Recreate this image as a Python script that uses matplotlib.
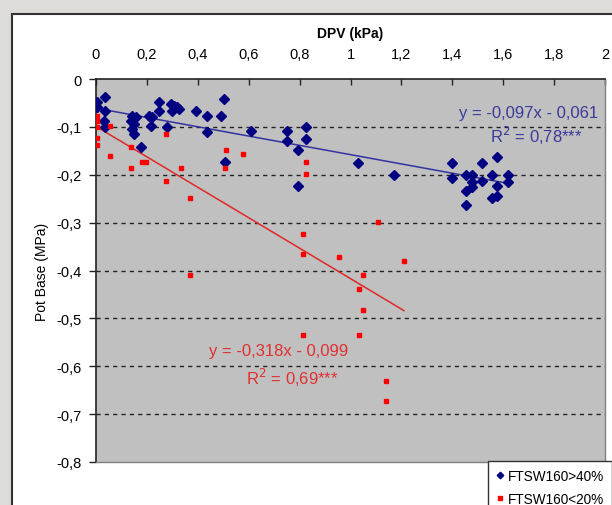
import matplotlib
matplotlib.use("Agg")
import matplotlib.pyplot as plt
from matplotlib.patches import Rectangle
import numpy as np

plt.rcParams['font.family'] = ['Liberation Sans', 'DejaVu Sans']

# ---- data ----
blue_x = [0.004, 0.004, 0.035, 0.035, 0.03, 0.035,
          0.142, 0.138, 0.157, 0.15, 0.142, 0.15, 0.176,
          0.209, 0.22, 0.217, 0.248, 0.248, 0.28,
          0.295, 0.307, 0.319, 0.327, 0.30, 0.394,
          0.437, 0.437, 0.492, 0.504, 0.507, 0.61,
          0.752, 0.752, 0.795, 0.795, 0.827, 0.827,
          1.028, 1.169,
          1.398, 1.398, 1.452, 1.452, 1.452, 1.476, 1.476, 1.476,
          1.516, 1.516, 1.555, 1.555, 1.575, 1.575, 1.575, 1.618, 1.618]
blue_y = [-0.048, -0.058, -0.038, -0.067, -0.088, -0.10,
          -0.077, -0.088, -0.079, -0.094, -0.104, -0.115, -0.143,
          -0.077, -0.079, -0.098, -0.048, -0.067, -0.10,
          -0.052, -0.056, -0.058, -0.063, -0.067, -0.067,
          -0.077, -0.111, -0.077, -0.042, -0.174, -0.109,
          -0.109, -0.13, -0.148, -0.224, -0.10, -0.125,
          -0.175, -0.20,
          -0.175, -0.207, -0.20, -0.234, -0.263, -0.20, -0.215, -0.226,
          -0.175, -0.213, -0.20, -0.249, -0.163, -0.224, -0.244, -0.20, -0.215]

red_x = [0.004, 0.004, 0.004, 0.004, 0.004, 0.055, 0.055,
         0.137, 0.137, 0.182, 0.196, 0.274, 0.274, 0.333,
         0.37, 0.37, 0.51, 0.508, 0.576,
         0.812, 0.815, 0.826, 0.826, 0.815, 0.953,
         1.033, 1.033, 1.048, 1.048, 1.11, 1.14, 1.14, 1.21]
red_y = [-0.077, -0.088, -0.10, -0.123, -0.138, -0.098, -0.161,
         -0.141, -0.186, -0.174, -0.174, -0.115, -0.214, -0.186,
         -0.249, -0.409, -0.148, -0.186, -0.157,
         -0.324, -0.366, -0.174, -0.199, -0.535, -0.372,
         -0.439, -0.535, -0.409, -0.482, -0.299, -0.63, -0.673, -0.381]

blue_slope, blue_intercept = -0.097, -0.061
red_slope, red_intercept = -0.318, -0.099

x_ticks = [0, 0.2, 0.4, 0.6, 0.8, 1.0, 1.2, 1.4, 1.6, 1.8, 2.0]
x_tick_labels = ['0', '0,2', '0,4', '0,6', '0,8', '1', '1,2', '1,4', '1,6', '1,8', '2']
y_ticks = [0, -0.1, -0.2, -0.3, -0.4, -0.5, -0.6, -0.7, -0.8]
y_tick_labels = ['0', '-0,1', '-0,2', '-0,3', '-0,4', '-0,5', '-0,6', '-0,7', '-0,8']

series_labels = ['FTSW160>40%', 'FTSW160<20%']
blue_eq = 'y = -0,097x - 0,061'
blue_r2 = 'R$^2$ = 0,78***'
red_eq = 'y = -0,318x - 0,099'
red_r2 = 'R$^2$ = 0,69***'

# ---- figure ----
W, H = 612, 506
fig = plt.figure(figsize=(W / 100, H / 100), dpi=100)
fig.patch.set_facecolor('#dedcd8')

# white chart frame
frame = Rectangle((12 / W, -0.1), 1.2, 1 - 15 / H + 0.1, transform=fig.transFigure,
                  facecolor='white', edgecolor='#333333', linewidth=1.5, zorder=-10)
fig.patches.append(frame)

ax = fig.add_axes([96 / W, 1 - 463 / H, (605 - 96) / W, (463 - 80) / H])
ax.set_zorder(5)
ax.set_facecolor('#c0c0c0')
ax.set_xlim(0, 2)
ax.set_ylim(-0.8, 0)

for yv in y_ticks[1:-1]:
    ax.axhline(yv, color='#222222', linestyle=(0, (3, 3)), linewidth=1.0, zorder=1)

blue_col = '#000080'
red_col = '#ff0000'

ax.plot(blue_x, blue_y, linestyle='none', marker='D', markersize=4.7,
        color=blue_col, label=series_labels[0], zorder=3)
ax.plot(red_x, red_y, linestyle='none', marker='s', markersize=3.5,
        color=red_col, label=series_labels[1], zorder=3)

bx = np.array([min(blue_x), max(blue_x)])
ax.plot(bx, blue_slope * bx + blue_intercept, color='#3333a0', linewidth=1.1, zorder=2)
rx = np.array([min(red_x), max(red_x)])
ax.plot(rx, red_slope * rx + red_intercept, color='#e02828', linewidth=1.1, zorder=2)

ax.text(1.70, -0.070, blue_eq, color='#3a3a9a', fontsize=12, ha='center', va='center')
ax.text(1.73, -0.116, blue_r2, color='#3a3a9a', fontsize=12, ha='center', va='center')
ax.text(0.717, -0.568, red_eq, color='#e03030', fontsize=12, ha='center', va='center')
ax.text(0.77, -0.622, red_r2, color='#e03030', fontsize=12, ha='center', va='center')

ax.xaxis.tick_top()
ax.xaxis.set_label_position('top')
ax.set_xticks(x_ticks)
ax.set_xticklabels(x_tick_labels)
ax.set_yticks(y_ticks)
ax.set_yticklabels(y_tick_labels)
ax.tick_params(axis='x', direction='in', length=4, width=1, color='#222222',
               labelsize=10.5, pad=13)
ax.tick_params(axis='y', direction='out', length=5, width=1, color='#222222',
               labelsize=10.5, pad=5)
ax.set_xlabel('DPV (kPa)', fontsize=10, fontweight='bold', labelpad=7)
ax.set_ylabel('Pot Base (MPa)', fontsize=10, labelpad=6)

for s in ['left', 'top']:
    ax.spines[s].set_color('#222222')
    ax.spines[s].set_linewidth(1.2)
for s in ['right', 'bottom']:
    ax.spines[s].set_color('#808080')
    ax.spines[s].set_linewidth(1.0)

leg = ax.legend(loc='upper left', bbox_to_anchor=(488 / W, 1 - 462 / H),
                bbox_transform=fig.transFigure, fontsize=9.8, frameon=True,
                fancybox=False, edgecolor='#333333', framealpha=1,
                handlelength=0.5, handletextpad=0.35, borderpad=0.6,
                labelspacing=0.65, markerscale=0.7, borderaxespad=0)
leg.get_frame().set_linewidth(1.0)

fig.savefig('out.png', dpi=100, facecolor=fig.get_facecolor())
